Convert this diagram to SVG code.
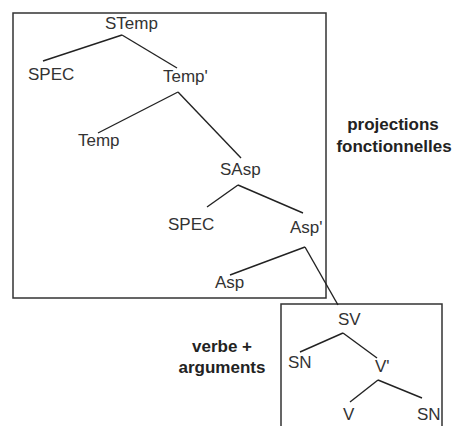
<svg xmlns="http://www.w3.org/2000/svg" width="457" height="426" viewBox="0 0 457 426">
<style>
.box{fill:none;stroke:#333;stroke-width:1.5}
.e{stroke:#222;stroke-width:1.4;fill:none}
.t{font-family:"Liberation Sans",Arial,sans-serif;font-size:17px;fill:#333}
.b{font-family:"Liberation Sans",Arial,sans-serif;font-size:17px;font-weight:bold;fill:#222;text-anchor:middle}
</style>
<rect width="457" height="426" fill="#fff"/>
<g id="box-projections"><rect class="box" x="13" y="13" width="313" height="285"/></g>
<g id="box-verbe"><path class="box" d="M281,430 V304 H442 V430"/></g>
<g id="connectors">
<line class="e" x1="122" y1="35" x2="43" y2="61"/>
<line class="e" x1="122" y1="35" x2="177" y2="68"/>
<line class="e" x1="178" y1="92" x2="98" y2="133"/>
<line class="e" x1="178" y1="92" x2="241" y2="158"/>
<line class="e" x1="238" y1="185" x2="207" y2="207"/>
<line class="e" x1="238" y1="185" x2="303" y2="213"/>
<line class="e" x1="305" y1="247" x2="230" y2="275"/>
<line class="e" x1="305" y1="247" x2="338" y2="305"/>
<line class="e" x1="343" y1="333" x2="300" y2="352"/>
<line class="e" x1="343" y1="333" x2="377" y2="358"/>
<line class="e" x1="378" y1="380" x2="350" y2="402"/>
<line class="e" x1="378" y1="380" x2="422" y2="398"/>
</g>
<g id="n-STemp"><text class="t" x="105" y="29">STemp</text></g>
<g id="n-SPEC1"><text class="t" x="28" y="80">SPEC</text></g>
<g id="n-Temp1"><text class="t" x="163" y="82">Temp'</text></g>
<g id="n-Temp"><text class="t" x="78" y="146">Temp</text></g>
<g id="n-SAsp"><text class="t" x="220" y="175">SAsp</text></g>
<g id="n-SPEC2"><text class="t" x="168" y="230">SPEC</text></g>
<g id="n-Asp1"><text class="t" x="290" y="233">Asp'</text></g>
<g id="n-Asp"><text class="t" x="215" y="288">Asp</text></g>
<g id="n-SV"><text class="t" x="338" y="325">SV</text></g>
<g id="n-SN1"><text class="t" x="288" y="368">SN</text></g>
<g id="n-V1"><text class="t" x="375" y="372">V'</text></g>
<g id="n-V"><text class="t" x="343" y="420">V</text></g>
<g id="n-SN2"><text class="t" x="417" y="420">SN</text></g>
<g id="label-projections"><text class="b" x="393" y="130">projections</text><text class="b" x="394" y="152">fonctionnelles</text></g>
<g id="label-verbe"><text class="b" x="222" y="352">verbe +</text><text class="b" x="222" y="373">arguments</text></g>
</svg>
